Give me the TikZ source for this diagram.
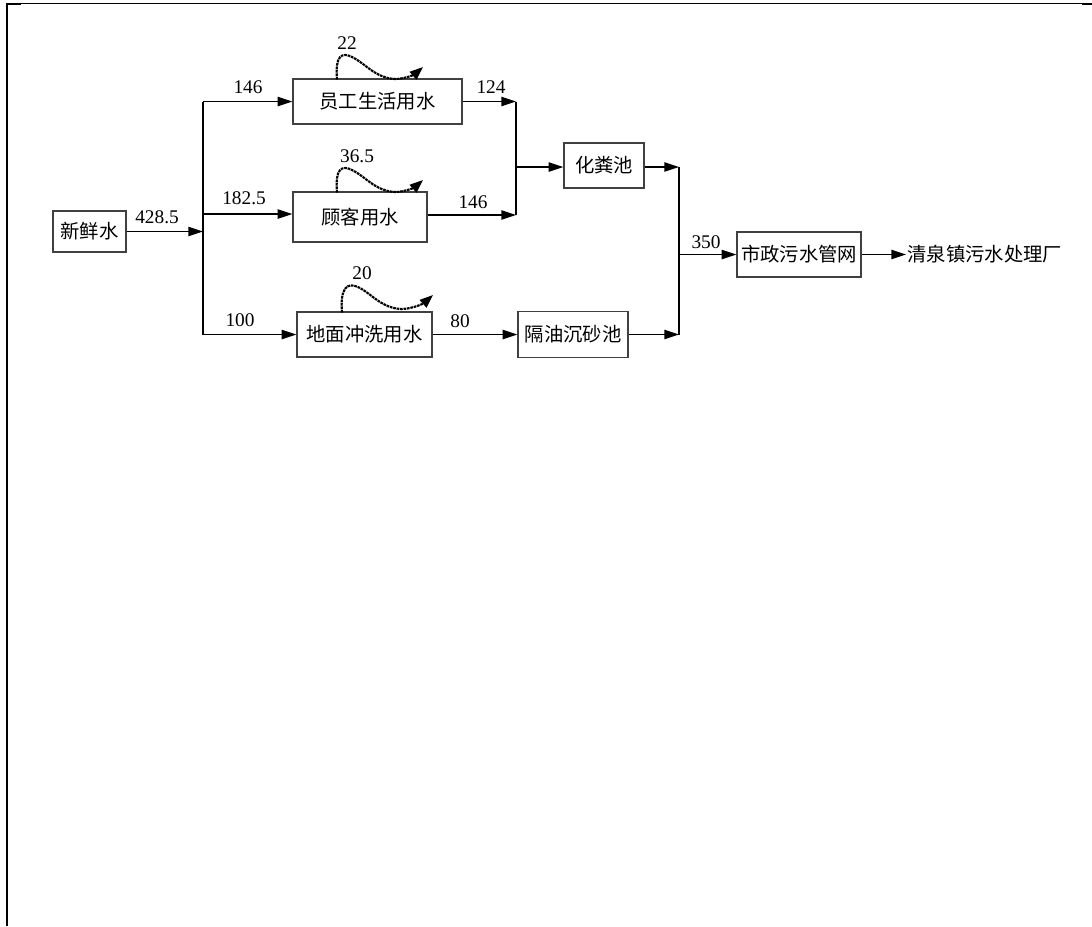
\documentclass[tikz,border=0pt]{standalone}
\usepackage{fontspec}
\setmainfont{Liberation Serif}
\newfontfamily\cjk{Noto Sans CJK SC}
\usetikzlibrary{arrows.meta}
\begin{document}
\begin{tikzpicture}[x=0.75pt,y=-0.75pt,
  every node/.style={font=\fontsize{14.5}{17}\selectfont},
  box/.style={draw=black!75, line width=1pt, inner sep=0pt, font=\cjk\fontsize{14.5}{17}\selectfont},
  flow/.style={line width=1pt, -{Triangle[length=11pt,width=7pt]}},
  plain/.style={line width=1pt},
  loss/.style={line width=1.6pt, dash pattern=on 2pt off 0.6pt, -{Triangle[length=10pt,width=7.5pt]}},
  num/.style={inner sep=0pt}]
\useasboundingbox (0,0) rectangle (1092,926);
% frame
\fill (6,3) rectangle (8,926);
\fill (6,3) rectangle (21,5);
\fill (1082,3) rectangle (1092,5);
\draw[line width=0.75pt] (8,3.5) -- (1092,3.5);
% boxes
\node[box, minimum width=54.75pt, minimum height=30.75pt] (xx) at (89.5,231.5) {新鲜水};
\node[box, minimum width=126.75pt, minimum height=33.75pt] (yg) at (377.5,101.5) {员工生活用水};
\node[box, minimum width=100.5pt, minimum height=37.5pt] (gk) at (360,217) {顾客用水};
\node[box, minimum width=101.25pt, minimum height=33.75pt] (dm) at (364.5,334.5) {地面冲洗用水};
\node[box, minimum width=60pt, minimum height=33.75pt] (hf) at (604,165.5) {化粪池};
\node[box, minimum width=82.5pt, minimum height=34.5pt] (gy) at (573,334.5) {隔油沉砂池};
\node[box, minimum width=93pt, minimum height=33.75pt] (sz) at (799,254.5) {市政污水管网};
\node[inner sep=1pt, anchor=west, font=\cjk\fontsize{14.5}{17}\selectfont] (qq) at (906,254.5) {清泉镇污水处理厂};
% junction coordinates
\coordinate (t1) at (203,101.5);
\coordinate (t2) at (203,214);
\coordinate (tm) at (203,231.5);
\coordinate (t3) at (203,334.5);
\coordinate (m1) at (516,101.5);
\coordinate (m2) at (516,215);
\coordinate (mm) at (516,167);
\coordinate (r1) at (679,167);
\coordinate (r2) at (679,334.5);
\coordinate (rm) at (679,254.5);
% connectors
\draw[flow] (xx.east) -- (tm);
\draw[plain] (t1) -- (t3);
\draw[flow] (t1) -- (yg.west);
\draw[flow] (t2) -- (t2 -| gk.west);
\draw[flow] (t3) -- (dm.west);
\draw[flow] (yg.east) -- (m1);
\draw[flow] (m2 -| gk.east) -- (m2);
\draw[plain] (m1) -- (m2);
\draw[flow] (mm) -- (mm -| hf.west);
\draw[flow] (dm.east) -- (gy.west);
\draw[flow] (hf.east |- r1) -- (r1);
\draw[flow] (gy.east) -- (r2);
\draw[plain] (r1) -- (r2);
\draw[flow] (rm) -- (sz.west);
\draw[flow] (sz.east) -- (qq.west);
% loss curves
\draw[loss] (337,79.5) .. controls (335,55) and (342,52) .. (352,57) .. controls (365,63) and (375,78) .. (395,79) .. controls (405,79) and (415,74) .. (423,67);
\draw[loss] (337,192.5) .. controls (335,168) and (342,165) .. (352,170) .. controls (365,176) and (375,191) .. (395,192) .. controls (405,192) and (415,187) .. (423,180);
\draw[loss] (342,312.5) .. controls (340,288) and (347,282) .. (358,287) .. controls (371,293) and (381,308) .. (401,309) .. controls (413,309) and (424,303) .. (433,295);
% numbers
\node[num] (n1) at (157,217) {428.5};
\node[num] (n2) at (248,87) {146};
\node[num] (n3) at (244,198) {182.5};
\node[num] (n4) at (240,320) {100};
\node[num] (n5) at (491,87) {124};
\node[num] (n6) at (473,202) {146};
\node[num] (n7) at (460,321) {80};
\node[num] (n8) at (706,242) {350};
\node[num] (n9) at (347,43) {22};
\node[num] (n10) at (357,156) {36.5};
\node[num] (n11) at (362,273) {20};
\end{tikzpicture}
\end{document}
